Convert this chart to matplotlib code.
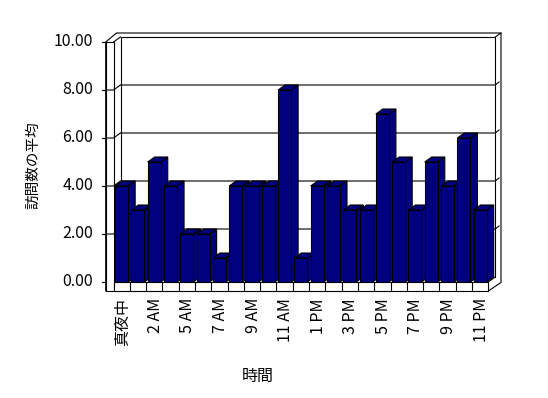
import matplotlib
matplotlib.use("Agg")
import matplotlib.pyplot as plt
import matplotlib.transforms as mtransforms
from matplotlib.patches import Polygon
from matplotlib.lines import Line2D

plt.rcParams['font.family'] = ['Noto Sans CJK JP', 'DejaVu Sans']

# 時間ごとの訪問数の平均 (4 AM は欠損)
hours = ["真夜中", "1 AM", "2 AM", "3 AM", "5 AM", "6 AM", "7 AM", "8 AM",
         "9 AM", "10 AM", "11 AM", "正午", "1 PM", "2 PM", "3 PM", "4 PM",
         "5 PM", "6 PM", "7 PM", "8 PM", "9 PM", "10 PM", "11 PM"]
visits = [4, 3, 5, 4, 2, 2, 1, 4, 4, 4, 8, 1, 4, 4, 3, 3, 7, 5, 3, 5, 4, 6, 3]
y_ticks = [0, 2, 4, 6, 8, 10]
y_labels = ["0.00", "2.00", "4.00", "6.00", "8.00", "10.00"]

W, H = 548, 398
NAVY = "#000080"
LW = 0.8
DX, DY = 7, 5          # depth of the bars / back wall (pixels)
WALL = 7.8             # thickness of the left wall
FLOOR = 9              # thickness of the floor
OX, OY = 12.7, 9       # outer edge of the back wall

fig = plt.figure(figsize=(W / 100, H / 100), dpi=100)
fig.patch.set_facecolor("white")
ax = fig.add_axes([113.5 / W, 116 / H, (488.3 - 113.5) / W, 240 / H])
ax.set_xlim(-0.5, len(visits) - 0.5)
ax.set_ylim(0, 10)
ax.axis("off")

ident = mtransforms.IdentityTransform()


def d2p(x, y):
    return ax.transData.transform((x, y))


def poly(pts, z, fc="white"):
    ax.add_patch(Polygon(pts, closed=True, facecolor=fc, edgecolor="black",
                         lw=LW, transform=ident, zorder=z, clip_on=False))


def line(pts, z=1):
    xs, ys = zip(*pts)
    ax.add_line(Line2D(xs, ys, color="black", lw=LW, transform=ident,
                       zorder=z, clip_on=False))


x0, y0 = d2p(-0.5, 0)
x1, y1 = d2p(len(visits) - 0.5, 10)

# outer shape of walls / floor
poly([(x0 - WALL, y1), (x0 + 3, y1 + OY), (x1 + OX, y1 + OY),
      (x1 + OX, y0 - 0.5), (x1, y0 - FLOOR), (x0 - WALL, y0 - FLOOR)], 0)
# back wall
poly([(x0 + DX, y0 + DY), (x1 + DX, y0 + DY), (x1 + DX, y1 + DY),
      (x0 + DX, y1 + DY)], 0.5)
line([(x0, y1), (x0 + DX, y1 + DY)])
line([(x1 + DX, y1 + DY), (x1 + OX, y1 + OY)])
line([(x1, y0), (x1 + DX, y0 + DY)])
# left wall front face
poly([(x0 - WALL, y0 - FLOOR), (x0, y0 - FLOOR), (x0, y1), (x0 - WALL, y1)], 1)

# gridlines and ticks
for v in y_ticks:
    _, yv = d2p(0, v)
    line([(x0 - WALL - 4, yv), (x0 - WALL, yv)])
    if 0 < v < 10:
        line([(x0 - WALL, yv), (x0, yv), (x0 + DX, yv + DY), (x1 + DX, yv + DY),
              (x1 + OX - 2, yv + DY + 3)])

# floor front strip
poly([(x0, y0 - FLOOR), (x1, y0 - FLOOR), (x1, y0), (x0, y0)], 1)
for i in range(1, len(visits)):
    xb, _ = d2p(i - 0.5, 0)
    line([(xb, y0 - FLOOR), (xb, y0)])

# bars
bars = ax.bar(range(len(visits)), visits, width=0.8, color=NAVY,
              edgecolor="black", linewidth=LW)
for i, rect in enumerate(bars):
    rect.set_zorder(3 + i * 0.1 + 0.05)
    L, T = d2p(i - 0.4, visits[i])
    R, B = d2p(i + 0.4, 0)
    poly([(R, B), (R + DX, B + DY), (R + DX, T + DY), (R, T)], 3 + i * 0.1, NAVY)
    poly([(L, T), (R, T), (R + DX, T + DY), (L + DX, T + DY)], 3 + i * 0.1, NAVY)

# tick labels
ylab_tr = mtransforms.offset_copy(ax.transData, fig=fig, x=-20.5, y=0, units="dots")
for v, s in zip(y_ticks, y_labels):
    ax.text(-0.5, v, s, transform=ylab_tr, ha="right", va="center", fontsize=11.5)

xlab_tr = mtransforms.offset_copy(ax.transData, fig=fig, x=1, y=-16, units="dots")
for i, s in enumerate(hours):
    if i % 2 == 0:
        ax.text(i, 0, s, transform=xlab_tr, rotation=90, ha="center", va="top",
                fontsize=11.5)

fig.text(33 / W, 1 - 165 / H, "訪問数の平均", rotation=90, ha="center",
         va="center", fontsize=10.5)
fig.text(258 / W, 1 - 376 / H, "時間", ha="center", va="center", fontsize=11.5)

fig.savefig("out.png", dpi=100, facecolor="white")
